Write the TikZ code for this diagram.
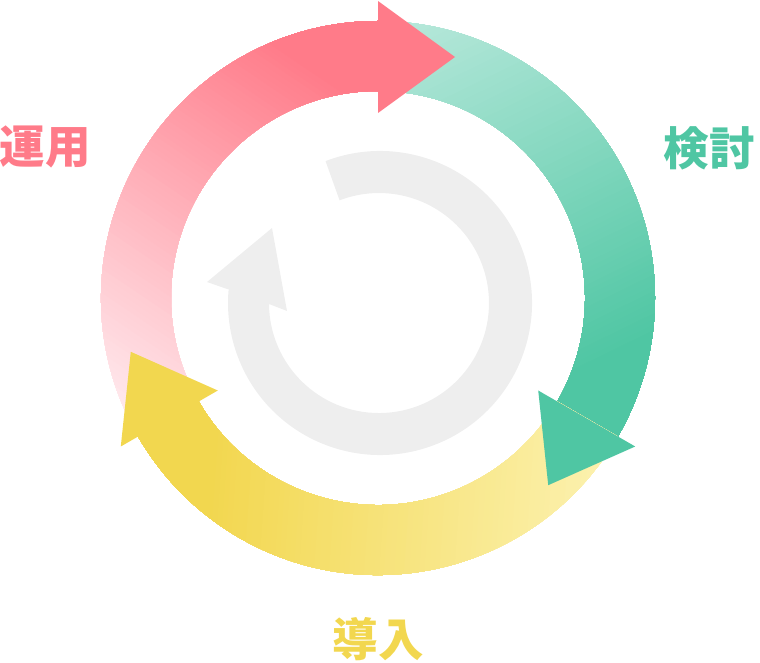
\documentclass[tikz,border=0pt]{standalone}
\usepackage{fontspec}
\newfontfamily\cjk{Noto Sans CJK JP}
\definecolor{pinkS}{HTML}{FF7B89}
\definecolor{pinkL}{HTML}{FFE9ED}
\definecolor{greenS}{HTML}{4FC6A3}
\definecolor{greenL}{HTML}{B6E8DA}
\definecolor{yelS}{HTML}{F2D74F}
\definecolor{yelL}{HTML}{FCF1AE}
\definecolor{grayR}{HTML}{EEEEEE}
\tikzset{
  lbl/.style={inner sep=0pt, font=\cjk\bfseries\fontsize{45.5}{45.5}\selectfont}
}
\newcommand{\cycbody}[3]{%
  \begin{scope}[shift={(378,364)}, rotate=#1]
    \clip (210:277) arc[start angle=210, end angle=88, radius=277]
      -- (88:207) arc[start angle=88, end angle=210, radius=207] -- cycle;
    \begin{scope}[rotate=56]
      \foreach \t in {-300,-295,...,300}{
        \pgfmathtruncatemacro\pp{min(100,max(0,(\t+240)/390*100))}
        \fill[#2!\pp!#3] (\t,-330) rectangle (330,330);
      }
    \end{scope}
  \end{scope}}
\newcommand{\cychead}[2]{%
  \begin{scope}[shift={(378,364)}, rotate=#1]
    \fill[#2] (0,185) -- (77,241) -- (0,297) -- cycle;
  \end{scope}}
\begin{document}
\begin{tikzpicture}[x=1pt,y=1pt]
\useasboundingbox (0,0) rectangle (760,662);
% inner gray cycle arrow
\begin{scope}[shift={(380,359)}]
  \fill[grayR] (111:152) arc[start angle=111, end angle=-185.2, radius=152]
    -- (-153,14) -- (-173,21) -- (-108,75) -- (-93,-8) -- (-111,-1)
    arc[start angle=-179.5, end angle=111, radius=110] -- cycle;
\end{scope}
% bodies
\cycbody{0}{pinkS}{pinkL}
\cycbody{-120}{greenS}{greenL}
\cycbody{-240}{yelS}{yelL}
% heads
\cychead{0}{pinkS}
\cychead{-120}{greenS}
\cychead{-240}{yelS}
% labels
\node[lbl, text=pinkS] (unyo) at (45,515) {運用};
\node[lbl, text=greenS] (kento) at (709,514) {検討};
\node[lbl, text=yelS] (donyu) at (378,23) {導入};
\end{tikzpicture}
\end{document}
